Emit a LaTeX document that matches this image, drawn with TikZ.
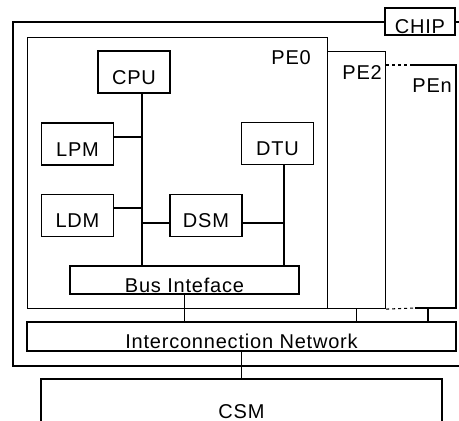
\documentclass[tikz,border=0pt]{standalone}
\usepackage{fontspec}
\setmainfont{Liberation Sans}[LetterSpace=4]
\usetikzlibrary{calc}

\tikzset{
  blk/.style={draw, line width=1.1pt, inner sep=0pt, text height=24pt, text depth=0pt,
    font=\fontsize{20}{24}\selectfont},
  unit/.style={blk, minimum width=72pt, minimum height=42pt},
  lbl/.style={anchor=base east, inner sep=0pt, font=\fontsize{20}{24}\selectfont},
  wire/.style={line width=1.1pt}
}

\begin{document}
\begin{tikzpicture}[x=1pt,y=-1pt]
  \useasboundingbox (0,0) rectangle (459,421);
  \clip (0,0) rectangle (459,421);
  % chip and processing elements
  \draw[wire] (13,22) rectangle (475,366);
  \node[blk, fill=white, minimum width=70pt, minimum height=27pt] (chip) at (420,21.5) {CHIP};
  \node[blk, anchor=north west, minimum width=300pt, minimum height=271pt] (pe0) at (27,37) {};
  \node[blk, anchor=north west, minimum width=58pt, minimum height=257pt] (pe2) at (327,51) {};
  \draw[wire] (413,65) -- (456,65) -- (456,308) -- (415,308);
  \draw[wire, dash pattern=on 3pt off 3pt] (pe2.east |- 0,65) -- (413,65);
  \draw[wire, dash pattern=on 3pt off 3pt] (pe2.south east) -- (415,308);
  \coordinate (pen) at (428,308);
  \node[lbl] (pe0lbl) at (311,64) {PE0};
  \node[lbl] (pe2lbl) at (382,79) {PE2};
  \node[lbl] (penlbl) at (452,92) {PEn};

  % inside PE0
  \node[unit] (cpu) at (134,72) {CPU};
  \node[unit] (lpm) at (77.5,144) {LPM};
  \node[unit] (dtu) at (277.5,143.5) {DTU};
  \node[unit] (ldm) at (77.5,215.5) {LDM};
  \node[unit] (dsm) at (206,215.5) {DSM};
  \node[blk, minimum width=229pt, minimum height=28pt] (bus) at (184.5,280) {Bus Inteface};
  \coordinate (spine) at ([xshift=8pt]cpu.south);
  \coordinate (dspine) at ([xshift=6.5pt]dtu.south);
  \draw[wire] (spine) -- (spine |- bus.north);
  \draw[wire] (dspine) -- (dspine |- bus.north);
  \draw[wire] ([yshift=7pt]lpm.east) -- ([yshift=7pt]lpm.east -| spine);
  \draw[wire] ([yshift=7.5pt]ldm.east) -- ([yshift=7.5pt]ldm.east -| spine);
  \draw[wire] ([yshift=-7.5pt]dsm.west) -- ([yshift=-7.5pt]dsm.west -| spine);
  \draw[wire] ([yshift=-7.5pt]dsm.east) -- ([yshift=-7.5pt]dsm.east -| dspine);

  % network and shared memory
  \node[blk, minimum width=429pt, minimum height=29pt] (net) at (241.5,336.5) {Interconnection Network};
  \node[blk, minimum width=401pt, minimum height=54pt] (csm) at (241.5,406) {CSM};
  \draw[wire] (bus.south) -- (bus.south |- net.north);
  \draw[wire] (pe2.south) -- (pe2.south |- net.north);
  \draw[wire] (pen) -- (pen |- net.north);
  \draw[wire] (net.south) -- (csm.north);
\end{tikzpicture}
\end{document}
